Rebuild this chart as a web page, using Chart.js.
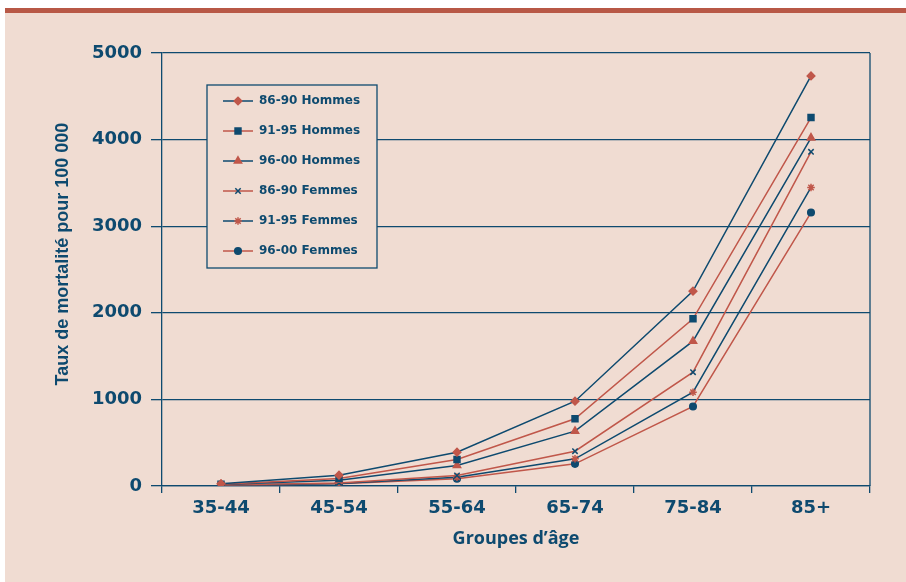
<!DOCTYPE html>
<html>
<head>
<meta charset="utf-8">
<script src="https://cdn.jsdelivr.net/npm/chart.js@4/dist/chart.umd.min.js"></script>
<style>
  html, body { margin: 0; padding: 0; background: #ffffff; }
  #mortaliteChart { display: block; }
</style>
</head>
<body>
<canvas id="mortaliteChart" width="906" height="582"></canvas>
<script>
// categories and values (rate per 100 000)
const groupesAge = ['35-44', '45-54', '55-64', '65-74', '75-84', '85+'];
const hommes8690 = [25, 125, 390, 979, 2250, 4735];
const hommes9195 = [20, 87, 306, 776, 1931, 4255];
const hommes9600 = [18, 67, 237, 633, 1672, 4021];
const femmes8690 = [12, 35, 121, 402, 1314, 3859];
const femmes9195 = [10, 28, 102, 314, 1083, 3447];
const femmes9600 = [8, 25, 83, 256, 918, 3158];
const seriesLabels = ['86-90 Hommes', '91-95 Hommes', '96-00 Hommes', '86-90 Femmes', '91-95 Femmes', '96-00 Femmes'];
const yTicks = [0, 1000, 2000, 3000, 4000, 5000];
const yTitre = 'Taux de mortalité pour 100 000';
const xTitre = 'Groupes d\u2019âge';

var bleu = '#0e4a6f';
var rouge = '#c0574a';
var fond = '#f0dcd2';

//-----------------PLUGINS-----------------------------
const fondPlugin = {
  id: 'fondPlugin',
  beforeDraw(chart) {
    const ctx = chart.ctx;
    ctx.save();
    ctx.fillStyle = '#ffffff';
    ctx.fillRect(0, 0, chart.width, chart.height);
    ctx.fillStyle = fond;
    ctx.fillRect(5, 13, chart.width - 5, chart.height - 13);
    ctx.fillStyle = '#b85846';
    ctx.fillRect(5, 8, chart.width - 5, 5);
    ctx.restore();
  }
};

function marker(ctx, ds, x, y) {
  ctx.fillStyle = ds.pointBackgroundColor;
  ctx.strokeStyle = ds.pointBorderColor;
  ctx.lineWidth = ds.pointBorderWidth;
  Chart.helpers.drawPoint(ctx, {
    pointStyle: ds.pointStyle,
    radius: ds.pointRadius,
    rotation: 0,
    borderWidth: ds.pointBorderWidth
  }, x, y);
}

const cadrePlugin = {
  id: 'cadrePlugin',
  afterDraw(chart) {
    const ctx = chart.ctx;
    const area = chart.chartArea;
    ctx.save();
    // right side of the frame
    ctx.strokeStyle = bleu;
    ctx.lineWidth = 1.3;
    ctx.beginPath();
    ctx.moveTo(area.right, area.top);
    ctx.lineTo(area.right, area.bottom);
    ctx.stroke();

    // y title, sits a little above the middle of the axis in the original
    ctx.save();
    ctx.translate(63, 254);
    ctx.rotate(-Math.PI / 2);
    ctx.font = 'bold 18px "Liberation Sans"';
    ctx.fillStyle = bleu;
    ctx.textAlign = 'center';
    ctx.textBaseline = 'middle';
    ctx.fillText(yTitre, 0, 0);
    ctx.restore();

    // legend box
    var bx = 207, by = 85, bw = 170, bh = 183;
    ctx.fillStyle = fond;
    ctx.fillRect(bx, by, bw, bh);
    ctx.strokeRect(bx, by, bw, bh);

    ctx.font = 'bold 12px "DejaVu Sans"';
    ctx.textBaseline = 'middle';
    ctx.textAlign = 'left';
    chart.data.datasets.forEach(function(ds, i) {
      var y = 101 + i * 30;
      ctx.strokeStyle = ds.borderColor;
      ctx.lineWidth = 1.5;
      ctx.beginPath();
      ctx.moveTo(223, y);
      ctx.lineTo(253, y);
      ctx.stroke();
      marker(ctx, ds, 238, y);
      ctx.fillStyle = bleu;
      ctx.fillText(ds.label, 259, y);
    });
    ctx.restore();
  }
};

//-----------------CREATE CHART-----------------------------
function serie(label, data, ligne, point, style, rayon) {
  return {
    label: label,
    data: data,
    borderColor: ligne,
    borderWidth: 1.5,
    pointStyle: style,
    pointRadius: rayon,
    pointBackgroundColor: point,
    pointBorderColor: point,
    pointBorderWidth: 1.5,
    tension: 0,
    fill: false
  };
}

const mortaliteChart = new Chart(document.getElementById('mortaliteChart'), {
  type: 'line',
  data: {
    labels: groupesAge,
    datasets: [
      serie(seriesLabels[0], hommes8690, bleu, rouge, 'rectRot', 3.8),
      serie(seriesLabels[1], hommes9195, rouge, bleu, 'rect', 4.2),
      serie(seriesLabels[2], hommes9600, bleu, rouge, 'triangle', 4.2),
      serie(seriesLabels[3], femmes8690, rouge, bleu, 'crossRot', 3.8),
      serie(seriesLabels[4], femmes9195, bleu, rouge, 'star', 3.8),
      serie(seriesLabels[5], femmes9600, rouge, bleu, 'circle', 3.3)
    ]
  },
  options: {
    responsive: false,
    animation: false,
    events: [],
    layout: {
      padding: { left: 0, right: 36, top: 53, bottom: 0 }
    },
    plugins: {
      legend: { display: false },
      tooltip: { enabled: false }
    },
    scales: {
      x: {
        type: 'category',
        offset: true,
        grid: {
          offset: true,
          drawOnChartArea: false,
          tickLength: 7,
          color: bleu,
          lineWidth: 1.3
        },
        border: { color: bleu, width: 1.3 },
        ticks: {
          color: bleu,
          padding: 5,
          maxRotation: 0,
          font: { family: 'DejaVu Sans', weight: 'bold', size: 18 }
        },
        title: {
          display: true,
          text: xTitre,
          color: bleu,
          padding: { top: 0, bottom: 32 },
          font: { family: 'Open Sans', weight: 'bold', size: 18 }
        },
        afterFit: function(scale) { scale.height = 96; }
      },
      y: {
        min: yTicks[0],
        max: yTicks[yTicks.length - 1],
        grid: {
          color: bleu,
          lineWidth: 1.3,
          tickLength: 11
        },
        border: { color: bleu, width: 1.3 },
        ticks: {
          stepSize: yTicks[1] - yTicks[0],
          color: bleu,
          padding: 9,
          font: { family: 'DejaVu Sans', weight: 'bold', size: 18 },
          callback: function(value) { return String(value); }
        },
        afterFit: function(scale) { scale.width = 162; }
      }
    }
  },
  plugins: [fondPlugin, cadrePlugin]
});
</script>
</body>
</html>
